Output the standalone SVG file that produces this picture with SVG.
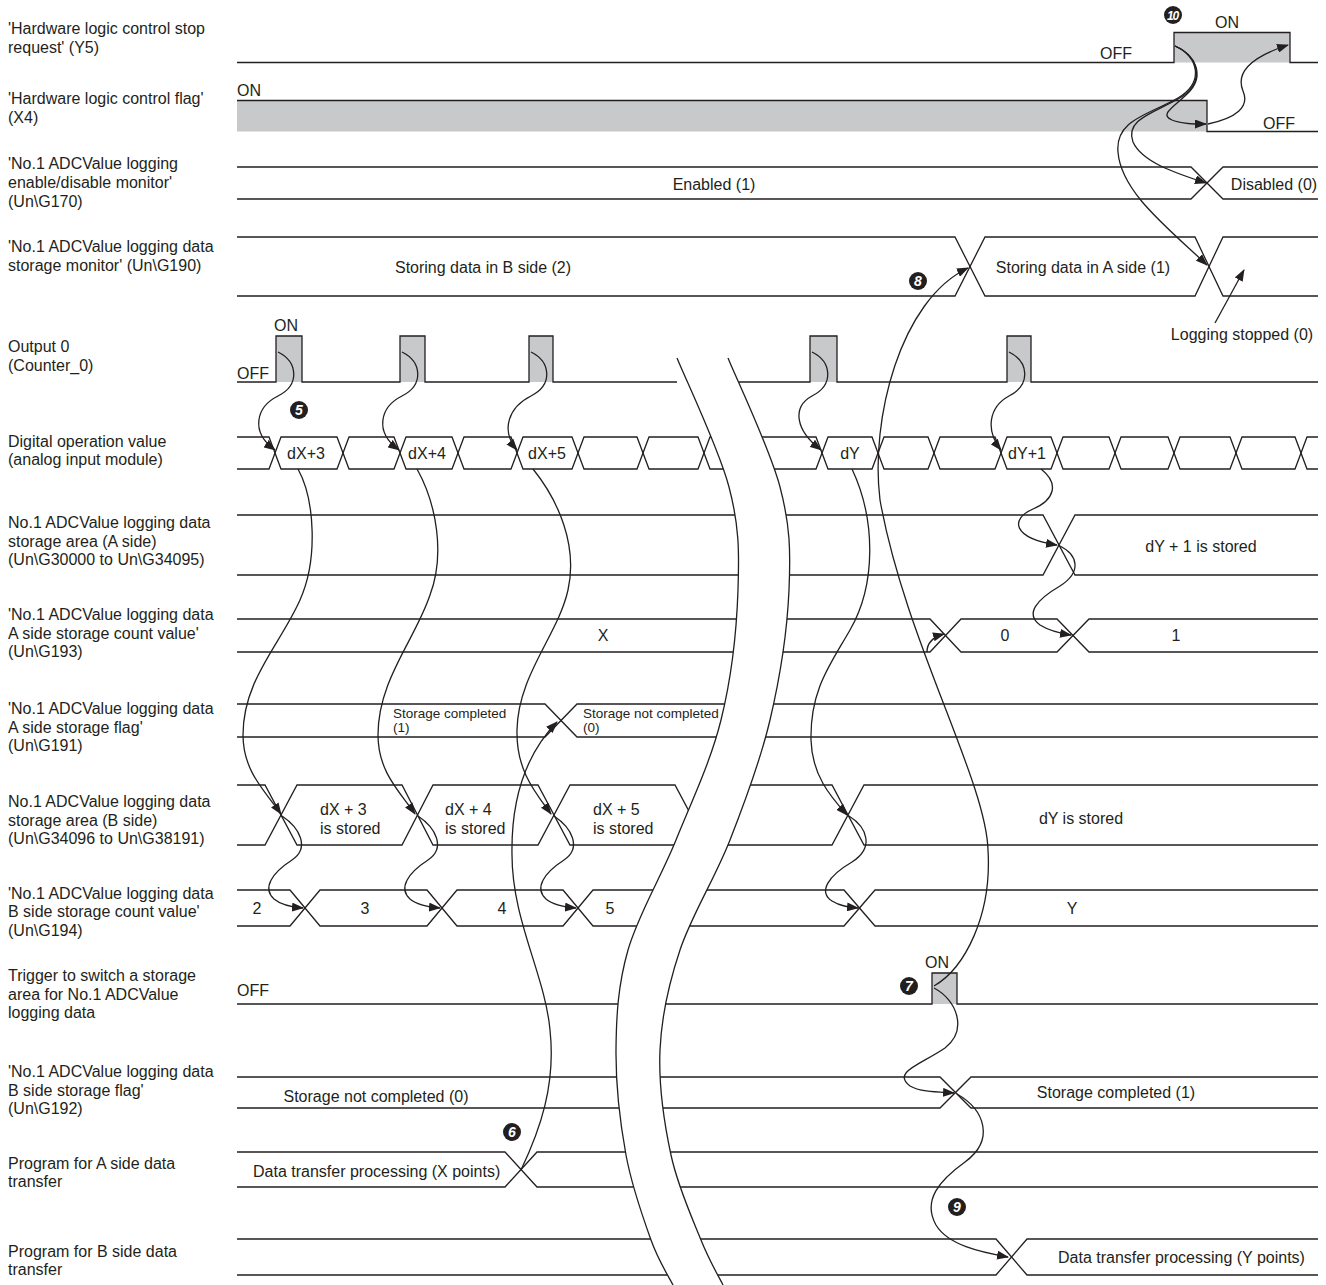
<svg xmlns="http://www.w3.org/2000/svg" width="1326" height="1285" viewBox="0 0 1326 1285">
<style>
.ln{fill:none;stroke:#231f20;stroke-width:1.3}
.gf{fill:#c8c9ca;stroke:none}
.cn{fill:none;stroke:#231f20;stroke-width:1.3;marker-end:url(#ah)}
.cp{fill:none;stroke:#231f20;stroke-width:1.3}
text{font-family:"Liberation Sans",Arial,sans-serif;font-size:16px;fill:#231f20}
.s{font-size:13.5px}
.c{text-anchor:middle}
.mk circle{fill:#231f20}
.mk text{fill:#fff;font-weight:bold;font-style:italic;font-size:14px;text-anchor:middle}
</style>
<defs>
<marker id="ah" viewBox="0 0 12 9" refX="11" refY="4.5" markerWidth="12" markerHeight="9" markerUnits="userSpaceOnUse" orient="auto">
<path d="M0,0 L12,4.5 L0,9 Z" fill="#231f20"/>
</marker>
</defs>
<rect width="1326" height="1285" fill="#fff"/>

<g id="labels">
<text x="8" y="33.5">'Hardware logic control stop</text>
<text x="8" y="52.5">request' (Y5)</text>
<text x="8" y="103.5">'Hardware logic control flag'</text>
<text x="8" y="122.5">(X4)</text>
<text x="8" y="168.5">'No.1 ADCValue logging</text>
<text x="8" y="187.5">enable/disable monitor'</text>
<text x="8" y="206.5">(Un\G170)</text>
<text x="8" y="252">'No.1 ADCValue logging data</text>
<text x="8" y="271">storage monitor' (Un\G190)</text>
<text x="8" y="352">Output 0</text>
<text x="8" y="371">(Counter_0)</text>
<text x="8" y="446.5">Digital operation value</text>
<text x="8" y="465">(analog input module)</text>
<text x="8" y="527.5">No.1 ADCValue logging data</text>
<text x="8" y="546.5">storage area (A side)</text>
<text x="8" y="565">(Un\G30000 to Un\G34095)</text>
<text x="8" y="619.5">'No.1 ADCValue logging data</text>
<text x="8" y="638.5">A side storage count value'</text>
<text x="8" y="657">(Un\G193)</text>
<text x="8" y="714">'No.1 ADCValue logging data</text>
<text x="8" y="732.5">A side storage flag'</text>
<text x="8" y="751">(Un\G191)</text>
<text x="8" y="806.5">No.1 ADCValue logging data</text>
<text x="8" y="825.5">storage area (B side)</text>
<text x="8" y="844">(Un\G34096 to Un\G38191)</text>
<text x="8" y="898.5">'No.1 ADCValue logging data</text>
<text x="8" y="917">B side storage count value'</text>
<text x="8" y="935.5">(Un\G194)</text>
<text x="8" y="980.5">Trigger to switch a storage</text>
<text x="8" y="999.5">area for No.1 ADCValue</text>
<text x="8" y="1018">logging data</text>
<text x="8" y="1076.5">'No.1 ADCValue logging data</text>
<text x="8" y="1095.5">B side storage flag'</text>
<text x="8" y="1114">(Un\G192)</text>
<text x="8" y="1168.5">Program for A side data</text>
<text x="8" y="1187">transfer</text>
<text x="8" y="1256.5">Program for B side data</text>
<text x="8" y="1275">transfer</text>
</g>

<g id="sig-y5">
<rect class="gf" x="1174" y="32.5" width="116" height="30"/>
<path class="ln" d="M237,62.5 H1174 V32.5 H1290 V62.5 H1318"/>
<text x="1100" y="59">OFF</text>
<text x="1215" y="27.5">ON</text>
</g>

<g id="sig-x4">
<rect class="gf" x="237" y="100.5" width="970" height="31"/>
<path class="ln" d="M237,100.5 H1207 V131.5 H1318"/>
<text x="237" y="96">ON</text>
<text x="1263" y="129">OFF</text>
</g>

<g id="sig-g170">
<path class="ln" d="M237,167 H1191 L1223,199 H1318"/>
<path class="ln" d="M237,199 H1191 L1223,167 H1318"/>
<text class="c" x="714" y="189.5">Enabled (1)</text>
<text class="c" x="1274" y="189.5">Disabled (0)</text>
</g>

<g id="sig-g190">
<path class="ln" d="M237,237 H955 L985,296 H1195 L1223,237 H1318"/>
<path class="ln" d="M237,296 H955 L985,237 H1195 L1223,296 H1318"/>
<text class="c" x="483" y="272.5">Storing data in B side (2)</text>
<text class="c" x="1083" y="272.5">Storing data in A side (1)</text>
<text class="c" x="1242" y="340">Logging stopped (0)</text>
</g>

<g id="sig-digital">
<path class="ln" d="M237,437 H269 L281,469 H337 L349,437 H394 L406,469 H452 L464,437 H511 L523,469 H572 L584,437 H637 L649,469 H698 L710,437 H816 L828,469 H872 L884,437 H928 L940,469 H995 L1007,437 H1051 L1063,469 H1109 L1121,437 H1168 L1180,469 H1230 L1242,437 H1295 L1307,469 H1318"/>
<path class="ln" d="M237,469 H269 L281,437 H337 L349,469 H394 L406,437 H452 L464,469 H511 L523,437 H572 L584,469 H637 L649,437 H698 L710,469 H816 L828,437 H872 L884,469 H928 L940,437 H995 L1007,469 H1051 L1063,437 H1109 L1121,469 H1168 L1180,437 H1230 L1242,469 H1295 L1307,437 H1318"/>
<text class="c" x="306" y="459">dX+3</text>
<text class="c" x="427" y="459">dX+4</text>
<text class="c" x="547" y="459">dX+5</text>
<text class="c" x="850" y="459">dY</text>
<text class="c" x="1027" y="459">dY+1</text>
</g>

<g id="sig-a-area">
<path class="ln" d="M237,515 H1043 L1075,575 H1318"/>
<path class="ln" d="M237,575 H1043 L1075,515 H1318"/>
<text class="c" x="1201" y="551.5">dY + 1 is stored</text>
</g>

<g id="sig-a-count">
<path class="ln" d="M237,619 H930 L961,652 H1057 L1089,619 H1318"/>
<path class="ln" d="M237,652 H930 L961,619 H1057 L1089,652 H1318"/>
<text class="c" x="603" y="641">X</text>
<text class="c" x="1005" y="641">0</text>
<text class="c" x="1176" y="641">1</text>
</g>

<g id="sig-a-flag">
<path class="ln" d="M237,704 H545 L577,737 H1318"/>
<path class="ln" d="M237,737 H545 L577,704 H1318"/>
<text class="s" x="393" y="718">Storage completed</text>
<text class="s" x="393" y="731.5">(1)</text>
<text class="s" x="583" y="718">Storage not completed</text>
<text class="s" x="583" y="731.5">(0)</text>
</g>

<g id="sig-b-area">
<path class="ln" d="M237,785 H265 L297,845 H402 L433,785 H538 L570,845 H675 L707,785 H832 L864,845 H1318"/>
<path class="ln" d="M237,845 H265 L297,785 H402 L433,845 H538 L570,785 H675 L707,845 H832 L864,785 H1318"/>
<text x="320" y="815">dX + 3</text>
<text x="320" y="834">is stored</text>
<text x="445" y="815">dX + 4</text>
<text x="445" y="834">is stored</text>
<text x="593" y="815">dX + 5</text>
<text x="593" y="834">is stored</text>
<text class="c" x="1081" y="823.5">dY is stored</text>
</g>

<g id="sig-b-count">
<path class="ln" d="M237,890 H290 L320,926 H427 L457,890 H563 L593,926 H844 L875,890 H1318"/>
<path class="ln" d="M237,926 H290 L320,890 H427 L457,926 H563 L593,890 H844 L875,926 H1318"/>
<text class="c" x="257" y="914">2</text>
<text class="c" x="365" y="914">3</text>
<text class="c" x="502" y="914">4</text>
<text class="c" x="610" y="914">5</text>
<text class="c" x="1072" y="914">Y</text>
</g>

<g id="sig-trigger">
<rect class="gf" x="932" y="973" width="25" height="31"/>
<path class="ln" d="M237,1004 H932 V973 H957 V1004 H1318"/>
<text x="237" y="995.5">OFF</text>
<text class="c" x="937" y="967.5">ON</text>
</g>

<g id="sig-b-flag">
<path class="ln" d="M237,1077 H940 L971,1108 H1318"/>
<path class="ln" d="M237,1108 H940 L971,1077 H1318"/>
<text class="c" x="376" y="1101.5">Storage not completed (0)</text>
<text class="c" x="1116" y="1098">Storage completed (1)</text>
</g>

<g id="sig-a-prog">
<path class="ln" d="M237,1152 H505 L537,1187 H1318"/>
<path class="ln" d="M237,1187 H505 L537,1152 H1318"/>
<text x="253" y="1176.5">Data transfer processing (X points)</text>
</g>

<g id="sig-b-prog">
<path class="ln" d="M237,1239 H996 L1027,1275 H1318"/>
<path class="ln" d="M237,1275 H996 L1027,1239 H1318"/>
<text x="1058" y="1262.5">Data transfer processing (Y points)</text>
</g>

<g id="break">
<path fill="#fff" stroke="none" d="M677,358 C685.7,379.5 718.8,448.3 729,487 C739.2,525.7 739.3,551.2 738,590 C736.7,628.8 731.3,678.3 721,720 C710.7,761.7 691.5,801.7 676,840 C660.5,878.3 638,915 628,950 C618,985 616.3,1015.8 616,1050 C615.7,1084.2 620.2,1123.3 626,1155 C631.8,1186.7 643.2,1218.3 651,1240 C658.8,1261.7 669.3,1277.5 673,1285 L723,1285 C719.3,1277.5 709.7,1261.7 701,1240 C692.3,1218.3 677.8,1186.7 671,1155 C664.2,1123.3 658.5,1084.2 660,1050 C661.5,1015.8 668.3,985 680,950 C691.7,915 715,878.3 730,840 C745,801.7 760.2,761.7 770,720 C779.8,678.3 787.3,628.8 789,590 C790.7,551.2 790.2,525.7 780,487 C769.8,448.3 736.7,379.5 728,358 Z"/>
<path class="cp" d="M677,358 C685.7,379.5 718.8,448.3 729,487 C739.2,525.7 739.3,551.2 738,590 C736.7,628.8 731.3,678.3 721,720 C710.7,761.7 691.5,801.7 676,840 C660.5,878.3 638,915 628,950 C618,985 616.3,1015.8 616,1050 C615.7,1084.2 620.2,1123.3 626,1155 C631.8,1186.7 643.2,1218.3 651,1240 C658.8,1261.7 669.3,1277.5 673,1285"/>
<path class="cp" d="M728,358 C736.7,379.5 769.8,448.3 780,487 C790.2,525.7 790.7,551.2 789,590 C787.3,628.8 779.8,678.3 770,720 C760.2,761.7 745,801.7 730,840 C715,878.3 691.7,915 680,950 C668.3,985 661.5,1015.8 660,1050 C658.5,1084.2 664.2,1123.3 671,1155 C677.8,1186.7 692.3,1218.3 701,1240 C709.7,1261.7 719.3,1277.5 723,1285"/>
</g>

<g id="sig-output0">
<rect class="gf" x="276" y="336" width="26" height="46"/>
<rect class="gf" x="400" y="336" width="25" height="46"/>
<rect class="gf" x="529" y="336" width="24" height="46"/>
<rect class="gf" x="810" y="336" width="27" height="46"/>
<rect class="gf" x="1007" y="336" width="24" height="46"/>
<path class="ln" d="M237,382 H276 V336 H302 V382 H400 V336 H425 V382 H529 V336 H553 V382 H677"/>
<path class="ln" d="M739,382 H810 V336 H837 V382 H1007 V336 H1031 V382 H1318"/>
<text class="c" x="286" y="330.5">ON</text>
<text x="237" y="379">OFF</text>
</g>

<g id="connectors">
<path class="cn" d="M278,352 C298,362 300,385 278,396 C256,407 250,432 275,450"/>
<path class="cn" d="M402,352 C422,362 424,385 402,396 C380,407 374,432 399,450"/>
<path class="cn" d="M531,352 C551,362 553,385 531,396 C509,407 500,430 517,450"/>
<path class="cn" d="M812,352 C832,362 834,385 812,396 C792,407 795,430 821,450"/>
<path class="cn" d="M1009,352 C1029,362 1031,385 1009,396 C989,407 985,430 1001,450"/>
<path class="cn" d="M298,469 C315,500 318,560 300,600 C280,645 243,680 243,735 C243,772 266,792 281,814"/>
<path class="cn" d="M417,469 C437,505 445,555 430,595 C415,640 378,680 378,735 C378,772 400,792 415,814"/>
<path class="cn" d="M533,469 C558,500 578,545 568,590 C558,635 518,675 517,730 C516,770 535,792 551,814"/>
<path class="cn" d="M852,469 C876,520 876,585 850,630 C830,665 810,690 811,740 C812,775 830,796 847,815"/>
<path class="cn" d="M282,816 C300,828 310,848 292,860 C272,873 262,888 274,899 C281,905 291,907 303,908"/>
<path class="cn" d="M418,816 C436,828 446,848 428,860 C408,873 398,888 410,899 C417,905 428,907 440,908"/>
<path class="cn" d="M554,816 C572,828 582,848 564,860 C544,873 534,888 546,899 C553,905 564,907 576,908"/>
<path class="cn" d="M849,816 C868,828 874,848 852,862 C828,876 818,892 832,901 C840,906 848,907 858,908"/>
<path class="cn" d="M1041,469 C1060,484 1054,500 1033,509 C1010,519 1012,538 1057,545"/>
<path class="cn" d="M1060,546 C1078,555 1082,572 1060,586 C1036,600 1025,614 1040,625 C1048,630 1058,633 1071,635"/>
<path class="cn" d="M521,1170 C540,1130 556,1085 550,1030 C545,975 512,920 512,855 C511,800 525,755 557,722"/>
<path class="cn" d="M934,986 C965,968 992,915 988,850 C986,780 905,640 880,500 C870,420 900,300 968,268"/>
<path class="cn" d="M927,652 C927,643 933,637 944,634"/>
<path class="cn" d="M934,988 C957,1000 968,1030 945,1048 C920,1065 892,1072 910,1086 C920,1092 938,1092 954,1093"/>
<path class="cn" d="M957,1094 C985,1110 995,1140 965,1162 C940,1180 922,1200 936,1225 C948,1245 980,1252 1008,1257"/>
<path class="cn" d="M1175,46 C1196,55 1204,75 1190,91 C1176,106 1158,114 1172,120 C1182,124 1194,124 1206,124"/>
<path class="cn" d="M1175,46 C1198,56 1205,80 1183,96 C1158,112 1124,118 1133,142 C1142,162 1175,173 1206,183"/>
<path class="cn" d="M1175,46 C1198,56 1205,82 1178,98 C1148,115 1115,120 1118,152 C1121,192 1168,228 1207,265"/>
<path class="cn" d="M1208,124 C1236,118 1250,107 1243,91 C1236,74 1248,58 1288,45"/>
<path class="cn" d="M1215,323 L1244,270"/>
</g>

<g id="markers" class="mk">
<g id="m5"><circle cx="299" cy="410" r="9"/><text x="299" y="415">5</text></g>
<g id="m6"><circle cx="512" cy="1132" r="9"/><text x="512" y="1137">6</text></g>
<g id="m7"><circle cx="909" cy="986" r="9"/><text x="909" y="991">7</text></g>
<g id="m8"><circle cx="918" cy="281" r="9"/><text x="918" y="286">8</text></g>
<g id="m9"><circle cx="957" cy="1207" r="9"/><text x="957" y="1212">9</text></g>
<g id="m10"><circle cx="1173" cy="15" r="9"/><text x="1172.5" y="19.5" style="font-size:12px;letter-spacing:-1.2px">10</text></g>
</g>
</svg>
